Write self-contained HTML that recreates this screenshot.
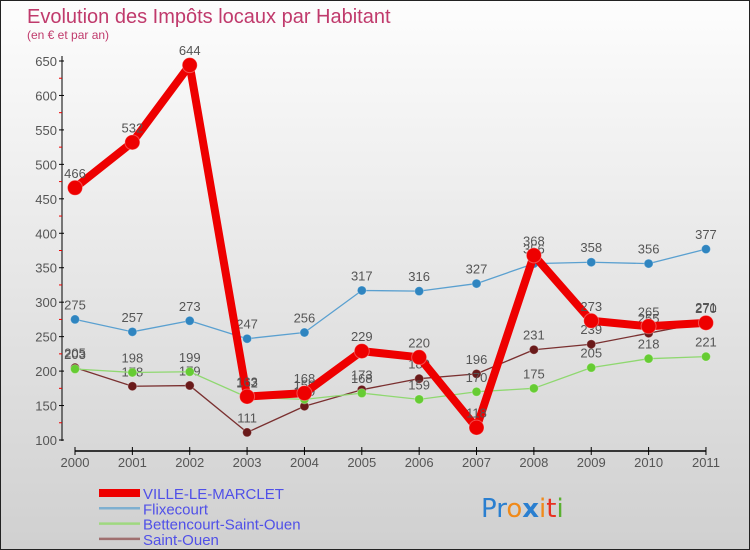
<!DOCTYPE html>
<html><head><meta charset="utf-8"><style>
body{margin:0;}
#c{width:748px;height:548px;border:1px solid #222;background:linear-gradient(#fdfdfd,#d0d0d0);position:relative;overflow:hidden;font-family:"Liberation Sans",sans-serif;}
</style></head><body>
<div id="c">
<svg width="748" height="548" id="svg" style="position:absolute;left:0;top:0">
<text x="26" y="22" font-size="20" fill="#c03a6c">Evolution des Impôts locaux par Habitant</text>
<text x="26" y="38" font-size="12" fill="#c03a6c">(en € et par an)</text>
<g id="axes"></g><g id="series"></g><g id="legend"></g>
<text x="480" y="516" font-size="26" font-family="DejaVu Sans"><tspan fill="#2a7fd0">Pr</tspan><tspan fill="#f08a1a">o</tspan><tspan fill="#2a7fd0" font-weight="bold">x</tspan><tspan fill="#f08a1a">i</tspan><tspan fill="#e83020">t</tspan><tspan fill="#5ab030">i</tspan></text>
</svg>
</div>
<script>
const years=["2000","2001","2002","2003","2004","2005","2006","2007","2008","2009","2010","2011"];
const yTicks=[100,150,200,250,300,350,400,450,500,550,600,650];
const seriesNames=["VILLE-LE-MARCLET","Flixecourt","Bettencourt-Saint-Ouen","Saint-Ouen"];
const ville=[466,532,644,163,168,229,220,118,368,273,265,270];
const flixecourt=[275,257,273,247,256,317,316,327,356,358,356,377];
const bettencourt=[203,198,199,162,159,168,159,170,175,205,218,221];
const saintOuen=[205,178,179,111,149,173,189,196,231,239,255,271];
const NS="http://www.w3.org/2000/svg";
const X=i=>74+i*57.36;
const Y=v=>439-(v-100)*(379/550);
function mk(p,t,a){const e=document.createElementNS(NS,t);for(const k in a)e.setAttribute(k,a[k]);p.appendChild(e);return e;}
const ax=document.getElementById('axes');
let l=mk(ax,'line',{x1:61,y1:55,x2:61,y2:440,stroke:'#000'});


l=mk(ax,'line',{x1:X(0),y1:450,x2:X(11),y2:450,stroke:'#000','stroke-width':1.5});


yTicks.forEach((v,i)=>{
  mk(ax,'line',{x1:58,y1:Y(v),x2:63,y2:Y(v),stroke:'#000'});
  if(i<yTicks.length-1)mk(ax,'line',{x1:58,y1:Y(v+25),x2:61,y2:Y(v+25),stroke:'#e00'});
  const t=mk(ax,'text',{x:56,y:Y(v)+5,'font-size':13,fill:'#555','text-anchor':'end'});
  t.textContent=v;
  
  
});
years.forEach((y,i)=>{
  mk(ax,'line',{x1:X(i),y1:446,x2:X(i),y2:454,stroke:'#000'});
  const t=mk(ax,'text',{x:X(i),y:466,'font-size':13,fill:'#555','text-anchor':'middle'});
  t.textContent=y;
  
  
});
const sg=document.getElementById('series');
const defs=[[saintOuen,'#7a3030','#6a1a1a',1.3,4.5],[bettencourt,'#8fd870','#66cc33',1.3,4.5],[flixecourt,'#5aa0d0','#2f85c0',1.3,4.5],[ville,'#ee0000','#ee0000',8,7.5]];
const order=[3,2,1,0];
defs.forEach((d,k)=>{
  const [data,lc,pc,w,r]=d;
  const g=mk(sg,'g',{});
  
  
  const pl=mk(g,'polyline',{points:data.map((v,i)=>X(i)+','+Y(v)).join(' '),fill:'none',stroke:lc,'stroke-width':w,'stroke-linejoin':'round'});
  
  
  data.forEach((v,i)=>{
    const c=mk(g,'circle',{cx:X(i),cy:Y(v),r:r,fill:pc,stroke:'#fff','stroke-opacity':0.3});
    
    
    const t=mk(g,'text',{x:X(i),y:Y(v)-10,'font-size':13,fill:'#555','text-anchor':'middle'});
    t.textContent=v;
    
    
  });
});
const lg=document.getElementById('legend');
const lcols=['#ee0000','#7fb0d0','#9fd880','#a07070'],lw=[8,2.5,2.5,2.5];
seriesNames.forEach((n,i)=>{
  const yy=492+i*15.3;
  const ln=mk(lg,'line',{x1:98,y1:yy,x2:139,y2:yy,stroke:lcols[i],'stroke-width':lw[i]});
  
  
  const t=mk(lg,'text',{x:142,y:yy+6,'font-size':15,fill:'#5050e8'});
  t.textContent=n;
  
  
});
</script>
</body></html>
